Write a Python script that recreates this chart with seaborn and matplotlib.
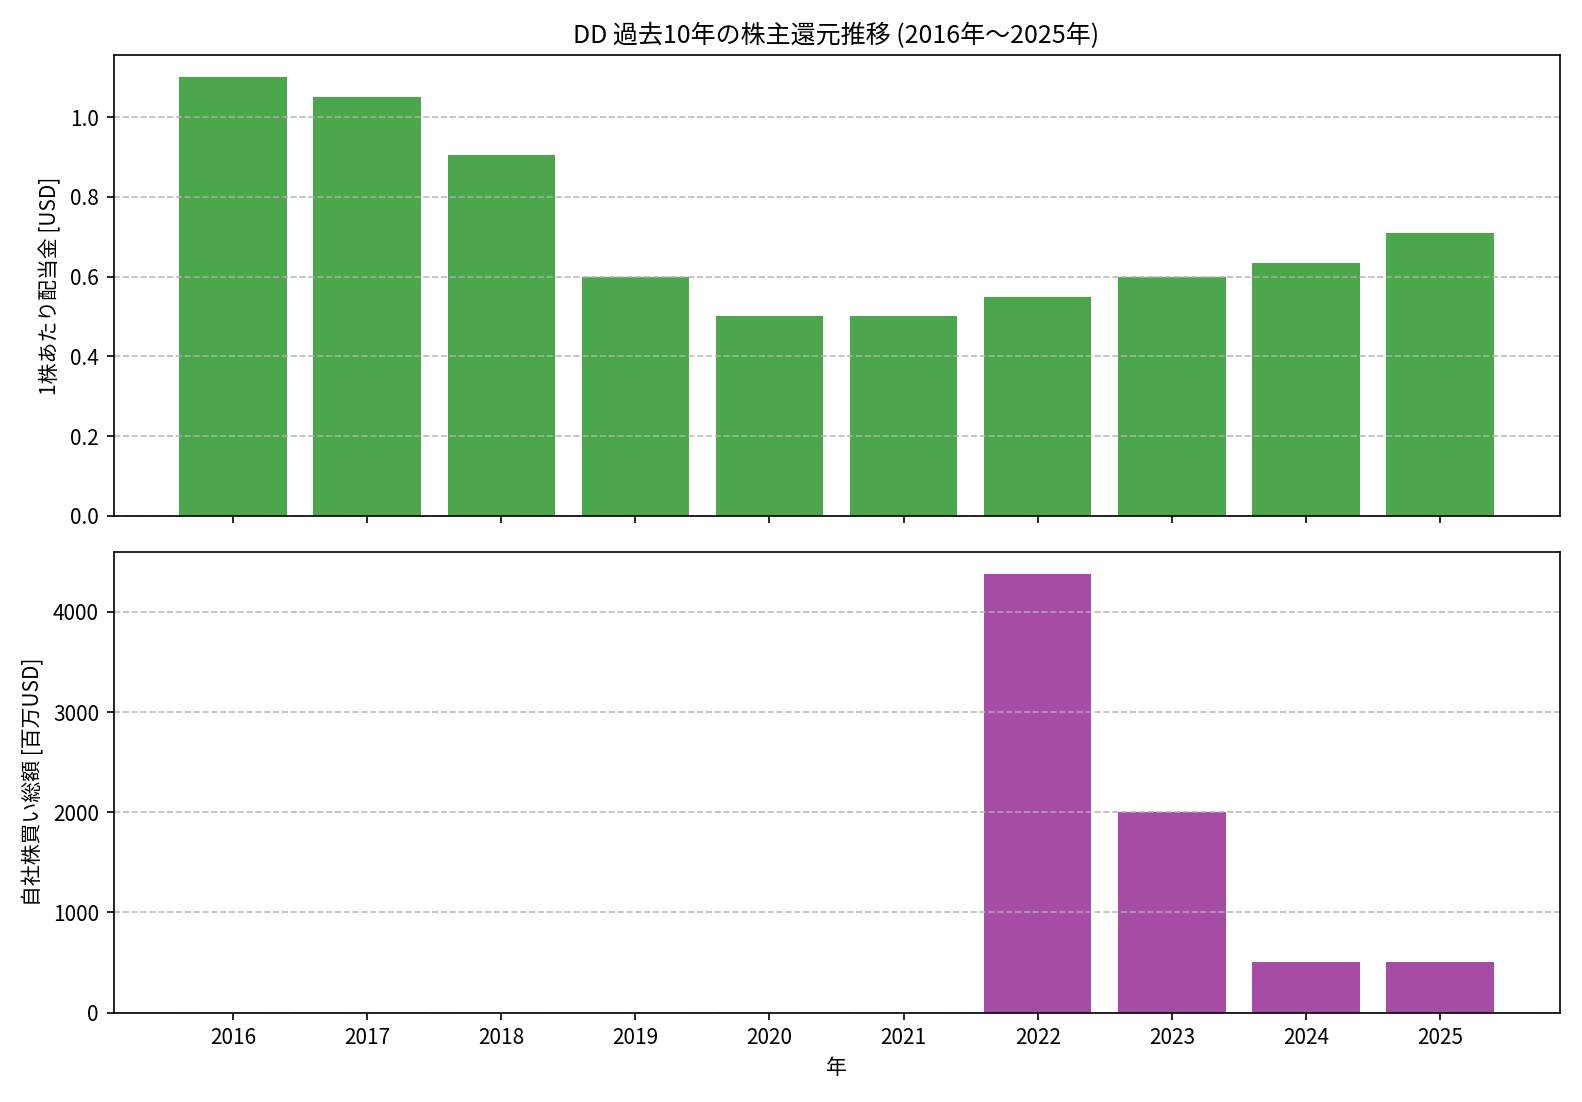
# DD shareholder returns over the last 10 years

import pandas as pd
import matplotlib.pyplot as plt
import seaborn as sns

plt.rcParams['font.family'] = ['Noto Sans CJK JP', 'DejaVu Sans']

years = ["2016", "2017", "2018", "2019", "2020", "2021", "2022", "2023", "2024", "2025"]
dividend_per_share = [1.10, 1.05, 0.905, 0.60, 0.50, 0.50, 0.55, 0.60, 0.635, 0.71]
buyback_musd = [0, 0, 0, 0, 0, 0, 4380, 2000, 500, 500]

df = pd.DataFrame({"year": years, "dividend": dividend_per_share, "buyback": buyback_musd})

fig, (ax1, ax2) = plt.subplots(2, 1, figsize=(1582 / 150, 1102 / 150), dpi=150, sharex=True)

# dividends per share
sns.barplot(data=df, x="year", y="dividend", color="green", alpha=0.7, saturation=1, width=0.8, ax=ax1)
ax1.set_title("DD 過去10年の株主還元推移 (2016年～2025年)", fontsize=12)
ax1.set_ylabel("1株あたり配当金 [USD]")
ax1.set_xlabel("")
ax1.set_axisbelow("line")  # grid above the bars, under the spines
ax1.grid(axis="y", linestyle="--", alpha=0.85)

# buybacks
sns.barplot(data=df, x="year", y="buyback", color="purple", alpha=0.7, saturation=1, width=0.8, ax=ax2)
ax2.set_ylabel("自社株買い総額 [百万USD]")
ax2.set_xlabel("年")
ax2.set_axisbelow("line")
ax2.grid(axis="y", linestyle="--", alpha=0.85)
ax2.set_xlim(-0.89, len(years) - 1 + 0.89)

plt.tight_layout()
plt.savefig("out.png", dpi=150)
